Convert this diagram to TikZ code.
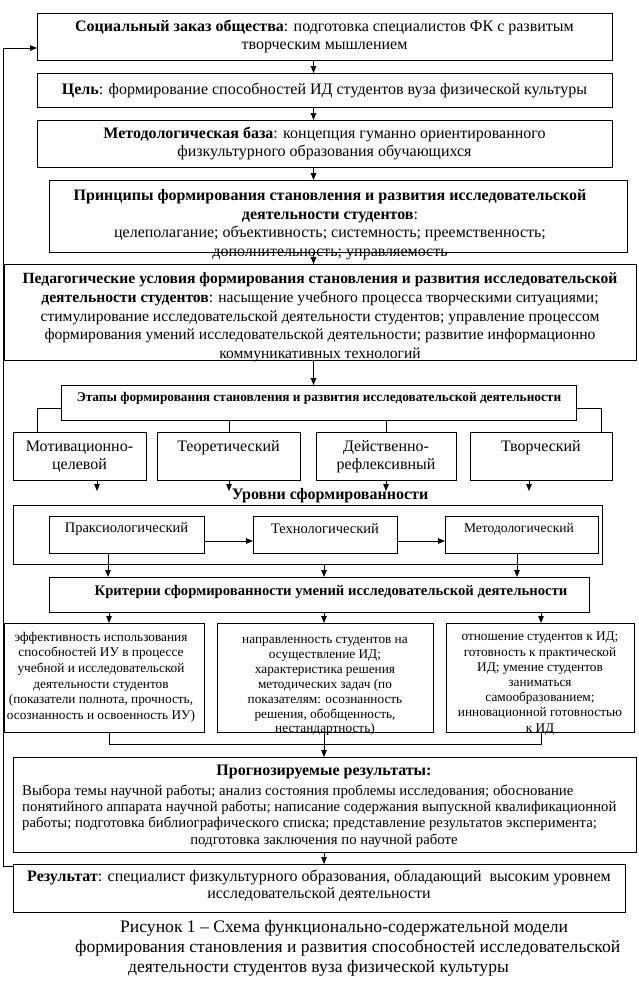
\documentclass[tikz,border=0pt]{standalone}
\usepackage{fontspec}
\setmainfont{Liberation Serif}
\usetikzlibrary{arrows.meta,calc}
\begin{document}
\begin{tikzpicture}[x=1pt,y=-1pt,
  frame/.style={draw, line width=0.8pt, inner sep=0pt, outer sep=0pt, anchor=north west},
  txt/.style={inner sep=0pt, align=center, font=\fontsize{16}{18.5}\selectfont},
  small/.style={inner sep=0pt, align=center, font=\fontsize{13.3}{15.6}\selectfont},
  arr/.style={line width=0.8pt, -{Triangle[length=7pt,width=5.5pt]}},
  ln/.style={line width=0.8pt}]
\useasboundingbox[fill=white] (0,0) rectangle (638,985);

% column coordinates
\coordinate (ax) at (313.5,0);
\coordinate (fbT) at (3,48);
\coordinate (fbB) at (3,866);

% top boxes
\node[frame, minimum width=575pt, minimum height=47pt] (b1) at (37,13) {};
\node[txt] (b1t) at (324.5,36.5) {\textbf{Социальный заказ общества}: подготовка специалистов ФК с развитым\\ творческим мышлением};
\node[frame, minimum width=575pt, minimum height=34pt] (b2) at (37,73) {};
\node[txt] (b2t) at (324.5,90) {\textbf{Цель}: формирование способностей ИД студентов вуза физической культуры};
\node[frame, minimum width=575pt, minimum height=47pt] (b3) at (37,120) {};
\node[txt] (b3t) at (324.5,143.5) {\textbf{Методологическая база}: концепция гуманно ориентированного\\ физкультурного образования обучающихся};
\node[frame, minimum width=578pt, minimum height=72pt] (b4) at (49,180) {};
\node[txt] (b4t) at (330,224.5) {\textbf{Принципы формирования становления и развития исследовательской}\\ \textbf{деятельности студентов}:\\ целеполагание; объективность; системность; преемственность;\\ дополнительность; управляемость};
\node[frame, minimum width=632pt, minimum height=96pt] (b5) at (4,264) {};
\node[txt, font=\fontsize{15.6}{18.7}\selectfont] (b5t) at (320,317.5) {\textbf{Педагогические условия формирования становления и развития исследовательской}\\ \textbf{деятельности студентов}: насыщение учебного процесса творческими ситуациями;\\ стимулирование исследовательской деятельности студентов; управление процессом\\ формирования умений исследовательской деятельности; развитие информационно\\ коммуникативных технологий};

\draw[arr] (b1.south -| ax) -- (b2.north -| ax);
\draw[arr] (b2.south -| ax) -- (b3.north -| ax);
\draw[arr] (b3.south -| ax) -- (b4.north -| ax);
\draw[arr] (b4.south -| ax) -- (b5.north -| ax);

% stages
\node[frame, minimum width=515pt, minimum height=35pt] (b6) at (61,385) {};
\node[txt, font=\bfseries\fontsize{13.3}{15}\selectfont] (b6t) at (319,398) {Этапы формирования становления и развития исследовательской деятельности};
\draw[arr] (b5.south -| ax) -- (b6.north -| ax);

\node[frame, minimum width=133pt, minimum height=48pt] (s1) at (13,432) {};
\node[txt, font=\fontsize{16}{18}\selectfont] (s1t) at (79.5,457) {Мотивационно-\\целевой};
\node[frame, minimum width=143pt, minimum height=48pt] (s2) at (157,432) {};
\node[txt] (s2t) at (228.5,448) {Теоретический};
\node[frame, minimum width=140pt, minimum height=48pt] (s3) at (316,432) {};
\node[txt, font=\fontsize{16}{18}\selectfont] (s3t) at (386,457) {Действенно-\\рефлексивный};
\node[frame, minimum width=142pt, minimum height=48pt] (s4) at (470,432) {};
\node[txt] (s4t) at (541,448) {Творческий};

\coordinate (cL) at (37,408);
\coordinate (cR) at (601,408);
\coordinate (c2) at (229,0);
\coordinate (c3) at (386,0);
\draw[ln] (b6.west |- cL) -- (cL) -- (cL |- s1.north);
\draw[ln] (b6.east |- cR) -- (cR) -- (cR |- s4.north);
\draw[ln] (b6.south -| c2) -- (s2.north -| c2);
\draw[ln] (b6.south -| c3) -- (s3.north -| c3);

\coordinate (d1) at (97,491);
\coordinate (d2) at (229,491);
\coordinate (d3) at (386,491);
\coordinate (d4) at (529,491);
\draw[arr] (s1.south -| d1) -- (d1);
\draw[arr] (s2.south -| d2) -- (d2);
\draw[arr] (s3.south -| d3) -- (d3);
\draw[arr] (s4.south -| d4) -- (d4);

% levels
\node[txt, font=\bfseries\fontsize{16}{18}\selectfont] (levl) at (330,496) {Уровни сформированности};
\node[frame, minimum width=589pt, minimum height=59pt] (lf) at (13,505) {};
\node[frame, minimum width=155pt, minimum height=37pt] (l1) at (49,516) {};
\node[txt, font=\fontsize{14.5}{16}\selectfont] (l1t) at (126.5,529) {Праксиологический};
\node[frame, minimum width=144pt, minimum height=37pt] (l2) at (253,516) {};
\node[txt, font=\fontsize{14.5}{16}\selectfont] (l2t) at (325,529) {Технологический};
\node[frame, minimum width=153pt, minimum height=37pt] (l3) at (445,516) {};
\node[txt, font=\fontsize{13.5}{16}\selectfont] (l3t) at (519,529) {Методологический};
\coordinate (h) at (0,541);
\draw[arr] (l1.east |- h) -- (l2.west |- h);
\draw[arr] (l2.east |- h) -- (l3.west |- h);

% criteria
\node[frame, minimum width=540pt, minimum height=35pt] (k) at (49,577) {};
\node[txt, font=\bfseries\fontsize{14.7}{17}\selectfont] (kt) at (331,592) {Критерии сформированности умений исследовательской деятельности};
\coordinate (e1) at (108,0);
\coordinate (e2) at (324,0);
\coordinate (e3) at (517,0);
\draw[arr] (l1.south -| e1) -- (k.north -| e1);
\draw[arr] (lf.south -| e2) -- (k.north -| e2);
\draw[arr] (l3.south -| e3) -- (k.north -| e3);

\node[frame, minimum width=200pt, minimum height=109pt] (cA) at (4,623) {};
\node[small] (cAt) at (101,677) {эффективность использования\\ способностей ИУ в процессе\\ учебной и исследовательской\\ деятельности студентов\\ (показатели полнота, прочность,\\ осознанность и освоенность ИУ)};
\node[frame, minimum width=216pt, minimum height=109pt] (cB) at (217,623) {};
\node[small, font=\fontsize{13.3}{14.9}\selectfont] (cBt) at (325,686.5) {направленность студентов на\\ осуществление ИД;\\ характеристика решения\\ методических задач (по\\ показателям: осознанность\\ решения, обобщенность,\\ нестандартность)};
\node[frame, minimum width=188pt, minimum height=109pt] (cC) at (446,623) {};
\node[small, font=\fontsize{13.3}{15.2}\selectfont] (cCt) at (540,683.5) {отношение студентов к ИД;\\ готовность к практической\\ ИД; умение студентов\\ заниматься\\ самообразованием;\\ инновационной готовностью\\ к ИД};
\coordinate (f1) at (109,0);
\coordinate (f2) at (324,0);
\coordinate (f3) at (541,0);
\draw[arr] (k.south -| f1) -- (cA.north -| f1);
\draw[arr] (k.south -| f2) -- (cB.north -| f2);
\draw[arr] (k.south -| f3) -- (cC.north -| f3);

% forecast
\node[frame, minimum width=623pt, minimum height=95pt] (p) at (13,757) {};
\coordinate (g) at (0,744);
\draw[ln] (cA.south -| f1) -- (f1 |- g) -- (f3 |- g) -- (cC.south -| f3);
\draw[arr] (cB.south -| f2) -- (p.north -| f2);
\node[txt, font=\bfseries\fontsize{16}{18}\selectfont] (ptt) at (324,772) {Прогнозируемые результаты:};
\node[txt, align=left, anchor=north west, font=\fontsize{14.8}{16}\selectfont] (pt) at (22,785) {Выбора темы научной работы; анализ состояния проблемы исследования; обоснование\\ понятийного аппарата научной работы; написание содержания выпускной квалификационной\\ работы; подготовка библиографического списка; представление результатов эксперимента;};
\node[txt, font=\fontsize{14.8}{16}\selectfont] (pt4) at (324,841) {подготовка заключения по научной работе};

% result
\node[frame, minimum width=612pt, minimum height=48pt] (r) at (13,864) {};
\draw[arr] (p.south -| f2) -- (r.north -| f2);
\node[txt, font=\fontsize{16}{16.5}\selectfont] (rt) at (319,886) {\textbf{Результат}: специалист физкультурного образования, обладающий~ высоким уровнем\\ исследовательской деятельности};

% feedback
\draw[arr] (r.west |- fbB) -- ++(-10,0) -- (fbT) -- (b1.west |- fbT);

% caption
\node[txt, anchor=west, font=\fontsize{17.6}{20}\selectfont] (cap1) at (120,928) {Рисунок 1 – Схема функционально-содержательной модели};
\node[txt, anchor=west, font=\fontsize{17.6}{20}\selectfont] (cap2) at (75,948) {формирования становления и развития способностей исследовательской};
\node[txt, anchor=west, font=\fontsize{17.6}{20}\selectfont] (cap3) at (128,968) {деятельности студентов вуза физической культуры};
\end{tikzpicture}
\end{document}
